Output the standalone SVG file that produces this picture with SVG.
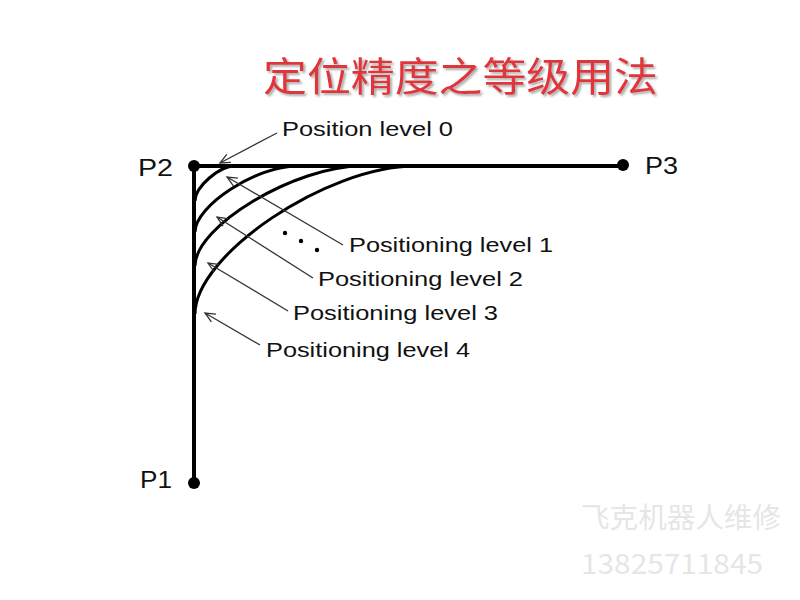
<svg xmlns="http://www.w3.org/2000/svg" width="800" height="600" viewBox="0 0 800 600">
<style>
.lbl{font-family:"Liberation Sans",Arial,sans-serif;font-size:20px;fill:#111}
.pt{font-family:"Liberation Sans",Arial,sans-serif;font-size:23px;fill:#111}
.axis{stroke:#000;stroke-width:4;fill:none}
.crv{stroke:#000;stroke-width:3;fill:none}
.arr{stroke:#333;stroke-width:1.3;fill:none;marker-end:url(#ah)}
.wm{font-family:"Noto Sans CJK SC","Noto Sans",sans-serif;font-size:28px;fill:#e6e6e6}
</style>
<defs>
<marker id="ah" markerWidth="14" markerHeight="12" refX="12" refY="6" orient="auto" markerUnits="userSpaceOnUse">
<path d="M2,1.5 L12,6 L2,10.5" fill="none" stroke="#333" stroke-width="1.3"/>
</marker>
<filter id="sh" x="-5%" y="-20%" width="110%" height="150%">
<feDropShadow dx="2" dy="2" stdDeviation="1" flood-color="#888" flood-opacity="0.7"/>
</filter>
</defs>
<rect width="800" height="600" fill="#fff"/>
<g id="title">
<text x="263" y="91" font-family="'Noto Sans CJK SC',sans-serif" font-size="40" fill="#e0353b" textLength="395" lengthAdjust="spacingAndGlyphs" filter="url(#sh)">定位精度之等级用法</text>
</g>
<g id="connectors">
<path class="axis" d="M194,166 H623"/>
<path class="axis" d="M194,166 V483"/>
<path class="crv" d="M195,201 C195,187 219,166 235,166"/>
<path class="crv" d="M195,232 C195,206 256,166 297,166"/>
<path class="crv" d="M195,266 C195,226 295,166 362,166"/>
<path class="crv" d="M195,314 C195,255 327,166 415,166"/>
<path class="arr" d="M277,133 L220,163"/>
<path class="arr" d="M343,245 L227,177"/>
<path class="arr" d="M313,278 L217,217"/>
<path class="arr" d="M288,311 L208,263"/>
<path class="arr" d="M260,345 L205,313"/>
</g>
<g id="dots">
<circle cx="285" cy="233" r="2.2" fill="#000"/>
<circle cx="301" cy="241" r="2.2" fill="#000"/>
<circle cx="317" cy="250" r="2.2" fill="#000"/>
</g>
<g id="P2"><circle cx="194" cy="166" r="6" fill="#000"/><text class="pt" x="138" y="176" textLength="35" lengthAdjust="spacingAndGlyphs">P2</text></g>
<g id="P3"><circle cx="623" cy="165" r="6" fill="#000"/><text class="pt" x="645" y="174" textLength="33" lengthAdjust="spacingAndGlyphs">P3</text></g>
<g id="P1"><circle cx="194" cy="483" r="6" fill="#000"/><text class="pt" x="140" y="488" textLength="32" lengthAdjust="spacingAndGlyphs">P1</text></g>
<g id="level0"><text class="lbl" x="282" y="136" textLength="171" lengthAdjust="spacingAndGlyphs">Position level 0</text></g>
<g id="level1"><text class="lbl" x="349" y="252" textLength="204" lengthAdjust="spacingAndGlyphs">Positioning level 1</text></g>
<g id="level2"><text class="lbl" x="318" y="286" textLength="205" lengthAdjust="spacingAndGlyphs">Positioning level 2</text></g>
<g id="level3"><text class="lbl" x="293" y="320" textLength="205" lengthAdjust="spacingAndGlyphs">Positioning level 3</text></g>
<g id="level4"><text class="lbl" x="266" y="357" textLength="204" lengthAdjust="spacingAndGlyphs">Positioning level 4</text></g>
<g id="watermark">
<text class="wm" x="581" y="528" textLength="200" lengthAdjust="spacingAndGlyphs">飞克机器人维修</text>
<text class="wm" x="581" y="574" textLength="182" lengthAdjust="spacingAndGlyphs">13825711845</text>
</g>
</svg>
